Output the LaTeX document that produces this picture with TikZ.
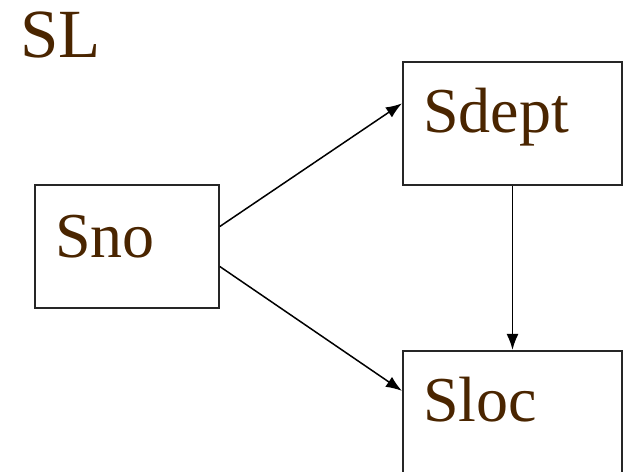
\documentclass[tikz,border=0pt]{standalone}
\usepackage{fontspec}
\setmainfont{Liberation Serif}
\usetikzlibrary{arrows.meta,calc}
\definecolor{txtbrown}{HTML}{4A2500}
\tikzset{
  box/.style={draw=black!85, line width=1.6pt, rectangle, inner sep=0pt},
  lbl/.style={text=txtbrown, font=\fontsize{64}{64}\selectfont, inner sep=0pt, anchor=base west},
  ttl/.style={text=txtbrown, font=\fontsize{69}{69}\selectfont, inner sep=0pt, anchor=base west},
  conn/.style={line width=1.5pt, -{Latex[length=16pt,width=12pt]}}
}
\begin{document}
\begin{tikzpicture}[x=1pt,y=1pt]
  \useasboundingbox (0,0) rectangle (625,-472);
  \clip (0,0) rectangle (625,-472);
  % heading
  \node[ttl] (title) at (20,-57) {SL};
  % boxes
  \node[box, minimum width=184pt, minimum height=123pt] (sno) at (127,-246.5) {};
  \node[box, minimum width=219.5pt, minimum height=123.3pt] (sdept) at (512.5,-123.4) {};
  \node[box, minimum width=219.5pt, minimum height=160pt] (sloc) at (512.5,-430.7) {};
  % box labels
  \node[lbl] (snolbl) at ($(sno.north west)+(21,-73)$) {Sno};
  \node[lbl] (sdeptlbl) at ($(sdept.north west)+(21,-71.6)$) {Sdept};
  \node[lbl] (sloclbl) at ($(sloc.north west)+(21,-72)$) {Sloc};
  % connectors
  \draw[conn] ($(sno.east)+(0,20)$) -- ($(sdept.west)+(0,20)$);
  \draw[conn] ($(sno.east)+(0,-20)$) -- ($(sloc.north west)+(0,-41)$);
  \draw[conn] (sdept.south) -- (sloc.north);
\end{tikzpicture}
\end{document}
